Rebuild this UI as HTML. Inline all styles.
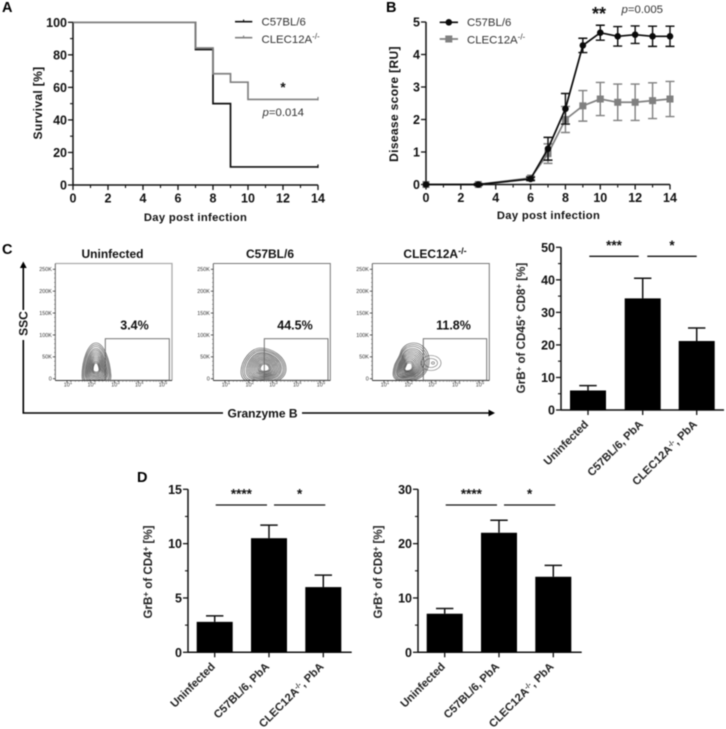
<!DOCTYPE html>
<html lang="en">
<head>
<meta charset="utf-8">
<title>Survival, disease score and granzyme B panels</title>
<style>
html,body{margin:0;padding:0;background:#fff;}
svg{display:block;filter:blur(0.4px);}
text{font-family:"Liberation Sans",sans-serif;fill:#111;}
.b{font-weight:bold;}
.tick{font-weight:bold;font-size:12.5px;}
.leg{font-size:11.4px;fill:#333;}
.lab{font-weight:bold;font-size:11.2px;letter-spacing:.35px;}
.laby{font-weight:bold;font-size:12px;letter-spacing:.35px;}
.cat{font-weight:bold;font-size:11.6px;fill:#222;}
.catx{font-weight:bold;font-size:11.2px;fill:#222;}
.star{font-weight:bold;font-size:13.5px;text-anchor:middle;}
.star2{font-weight:bold;font-size:18px;text-anchor:middle;}
.pct{font-weight:bold;font-size:12.5px;text-anchor:middle;}
.title{font-weight:bold;font-size:12px;text-anchor:middle;}
.letter{font-weight:bold;font-size:14.5px;fill:#000;}
.fl{font-size:5.4px;fill:#333;}
</style>
</head>
<body>
<svg id="fig" xmlns="http://www.w3.org/2000/svg" width="726" height="729" viewBox="0 0 726 729">
<rect width="726" height="729" fill="#fff"/>
<text class="letter" x="2" y="12">A</text>
<text class="letter" x="386" y="12">B</text>
<text class="letter" x="2" y="254">C</text>
<text class="letter" x="137" y="482">D</text>

<text class="laby" text-anchor="middle" transform="translate(42 103) rotate(-90)">Survival [%]</text>
<text class="lab" text-anchor="middle" x="195.5" y="221">Day post infection</text>
<text class="leg" x="261.5" y="25.5">C57BL/6</text>
<text class="leg" x="261.5" y="43">CLEC12A<tspan dy="-4" font-size="8">-/-</tspan></text>
<text class="star" x="283" y="92">*</text>
<text class="leg" x="262.5" y="116"><tspan font-style="italic">p</tspan>=0.014</text>

<text class="laby" text-anchor="middle" transform="translate(398 104) rotate(-90)">Disease score [RU]</text>
<text class="lab" text-anchor="middle" x="548.5" y="219">Day post infection</text>
<text class="leg" x="467" y="26">C57BL/6</text>
<text class="leg" x="467" y="43.5">CLEC12A<tspan dy="-4" font-size="8">-/-</tspan></text>
<text class="star2" x="599" y="20">**</text>
<text class="leg" x="621.5" y="13"><tspan font-style="italic">p</tspan>=0.005</text>

<text class="title" x="112.5" y="258">Uninfected</text>
<text class="title" x="270" y="258">C57BL/6</text>
<text class="title" x="435" y="258">CLEC12A<tspan dy="-4" font-size="9">-/-</tspan></text>
<text class="pct" x="134.5" y="329.5">3.4%</text>
<text class="pct" x="295" y="329.5">44.5%</text>
<text class="pct" x="453.5" y="329.5">11.8%</text>
<text class="b" font-size="12" text-anchor="middle" transform="translate(27.5 323.5) rotate(-90)">SSC</text>
<text class="b" font-size="12" x="227.5" y="417.5">Granzyme B</text>
<path d="M23.3 340V413M23.3 310V268" stroke="#000" stroke-width="1.6" fill="none"/>
<path d="M23.3 261.5l-3.4 6.5h6.8z" fill="#000"/>
<path d="M22.5 413H223M302 413H489" stroke="#000" stroke-width="1.6" fill="none"/>
<path d="M495 413l-6.5-3.4v6.8z" fill="#000"/>

<text class="cat" text-anchor="middle" transform="translate(525 328) rotate(-90)">GrB<tspan dy="-3.5" font-size="8">+</tspan><tspan dy="3.5"> of CD45</tspan><tspan dy="-3.5" font-size="8">+</tspan><tspan dy="3.5"> CD8</tspan><tspan dy="-3.5" font-size="8">+</tspan><tspan dy="3.5"> [%]</tspan></text>
<text class="cat" text-anchor="middle" transform="translate(152 572) rotate(-90)">GrB<tspan dy="-3.5" font-size="8">+</tspan><tspan dy="3.5"> of CD4</tspan><tspan dy="-3.5" font-size="8">+</tspan><tspan dy="3.5"> [%]</tspan></text>
<text class="cat" text-anchor="middle" transform="translate(382 572) rotate(-90)">GrB<tspan dy="-3.5" font-size="8">+</tspan><tspan dy="3.5"> of CD8</tspan><tspan dy="-3.5" font-size="8">+</tspan><tspan dy="3.5"> [%]</tspan></text>
</svg>

<script>
// Panel A: survival steps
const survivalDaysC57 = [0, 7, 8, 9, 14];
const survivalC57 = [100, 83.3, 50, 11.1, 11.1];
const survivalDaysClec = [0, 7, 8, 9, 10, 14];
const survivalClec = [100, 84.2, 68.4, 63.2, 52.6, 52.6];
const survivalYTicks = [0, 20, 40, 60, 80, 100];
const dayTicks = [0, 2, 4, 6, 8, 10, 12, 14];

// Panel B: disease score
const scoreDays = [0, 3, 6, 7, 8, 9, 10, 11, 12, 13, 14];
const scoreC57 = [0, 0, 0.17, 1.1, 2.33, 4.28, 4.67, 4.56, 4.61, 4.56, 4.56];
const errC57 = [0, 0.03, 0.05, 0.35, 0.47, 0.22, 0.23, 0.3, 0.27, 0.31, 0.31];
const scoreClec = [0, 0, 0.2, 0.95, 2.0, 2.42, 2.63, 2.53, 2.53, 2.58, 2.63];
const errClec = [0, 0, 0.05, 0.3, 0.4, 0.47, 0.51, 0.56, 0.56, 0.55, 0.54];
const scoreYTicks = [0, 1, 2, 3, 4, 5];

// Bar panels
const barCats = ["Uninfected", "C57BL/6, PbA", "CLEC12A"];
const cValues = [6, 34.3, 21.2];
const cErrors = [1.5, 6.2, 4];
const cTicks = [0, 10, 20, 30, 40, 50];
const d1Values = [2.8, 10.5, 6];
const d1Errors = [0.55, 1.2, 1.1];
const d1Ticks = [0, 5, 10, 15];
const d2Values = [7.1, 22, 13.9];
const d2Errors = [0.95, 2.3, 2.1];
const d2Ticks = [0, 10, 20, 30];

// Flow plots
const sscTicks = [0, 50, 100, 150, 200, 250];
const logTicks = [1, 2, 3, 4, 5];
const contourLevels = [1, 0.93, 0.86, 0.78, 0.72, 0.66, 0.6, 0.54, 0.48, 0.42, 0.36, 0.3, 0.25, 0.2];
const outlineUninfected = 'M-14 8C-14 -8,-8 -25,0 -25C8 -25,14 -8,15 8C15 16,8 20,0 20C-8 20,-14 16,-14 8Z';
const outlineC57 = 'M-24 4C-24 -8,-14 -20,-4 -20C6 -20,21 -12,21 1C21 12,8 16,-4 16C-14 16,-24 14,-24 4Z';
const outlineClec = 'M-15 6C-15 -4,-10 -8,-8 -14C-6 -22,0 -25,6 -25C14 -25,20 -18,21 -10C22 -2,18 10,6 12C-4 14,-15 14,-15 6Z';
const lobeClec = [[431, 363, 10, 7.5], [431, 363, 6.5, 4.5], [433, 363, 1.5, 1.2]];

const svg = document.getElementById('fig');
const NS = 'http://www.w3.org/2000/svg';
function mk(tag, attrs, nm) {
  const el = document.createElementNS(NS, tag);
  for (const k in attrs) el.setAttribute(k, attrs[k]);
  
  
  svg.appendChild(el);
  return el;
}
function scale(d0, d1, r0, r1) { return v => r0 + (v - d0) / (d1 - d0) * (r1 - r0); }
function line(x1, y1, x2, y2, color, w, nm) {
  return mk('line', {x1, y1, x2, y2, stroke: color, 'stroke-width': w}, nm);
}
function label(x, y, s, anchor, cls, nm) {
  const t = mk('text', {x, y, 'text-anchor': anchor, class: cls}, nm);
  t.textContent = s;
  return t;
}
function xyAxes(p, xs, ys, xTicks, yTicks, xMinor, yMinor) {
  line(xs(p.xMin), ys(p.yMin), xs(p.xMax), ys(p.yMin), '#111', 1.5, p.id + '-x-axis');
  line(xs(p.xMin), ys(p.yMin), xs(p.xMin), ys(p.yMax), '#111', 1.5, p.id + '-y-axis');
  xTicks.forEach(t => {
    line(xs(t), ys(p.yMin), xs(t), ys(p.yMin) + 5, '#111', 1.3, p.id + '-x-tick');
    label(xs(t), p.xLabelY, t, 'middle', 'tick', p.id + '-x-tick-label');
  });
  xMinor.forEach(t => line(xs(t), ys(p.yMin), xs(t), ys(p.yMin) + 3, '#111', 1.1, p.id + '-x-minor-tick'));
  yTicks.forEach(t => {
    line(xs(p.xMin) - 5, ys(t), xs(p.xMin), ys(t), '#111', 1.3, p.id + '-y-tick');
    label(xs(p.xMin) - 6, ys(t) + 4.5, t, 'end', 'tick', p.id + '-y-tick-label');
  });
  yMinor.forEach(t => line(xs(p.xMin) - 3, ys(t), xs(p.xMin), ys(t), '#111', 1.1, p.id + '-y-minor-tick'));
}

/* Panel A */
const ax = scale(0, 14, 73, 318);
const ay = scale(0, 100, 185, 22.3);
function stepPath(days, vals) {
  let d = 'M' + ax(days[0]) + ' ' + ay(vals[0]);
  for (let i = 1; i < days.length; i++) {
    d += 'H' + ax(days[i]) + 'V' + ay(vals[i]);
  }
  return d;
}
xyAxes({id: 'a', xMin: 0, xMax: 14, yMin: 0, yMax: 100, xLabelY: 202.5}, ax, ay, dayTicks, survivalYTicks,
  [1, 3, 5, 7, 9, 11, 13], [10, 30, 50, 70, 90]);
mk('path', {d: stepPath(survivalDaysC57, survivalC57), fill: 'none', stroke: '#111', 'stroke-width': 1.7}, 'survival-line-c57');
mk('path', {d: stepPath(survivalDaysClec, survivalClec), fill: 'none', stroke: '#808080', 'stroke-width': 1.7}, 'survival-line-clec');
line(ax(14), ay(survivalC57[survivalC57.length - 1]) - 2.5, ax(14), ay(survivalC57[survivalC57.length - 1]) + 1, '#111', 1.2, 'survival-censor-c57');
line(ax(14), ay(survivalClec[survivalClec.length - 1]) - 2.5, ax(14), ay(survivalClec[survivalClec.length - 1]) + 1, '#808080', 1.2, 'survival-censor-clec');
line(235, 21.7, 252.3, 21.7, '#111', 1.7, 'a-legend-line-c57');
line(243.6, 19.5, 243.6, 21.7, '#111', 1.1, 'a-legend-tick-c57');
line(235, 37.7, 252.3, 37.7, '#808080', 1.7, 'a-legend-line-clec');
line(243.6, 35.5, 243.6, 37.7, '#808080', 1.1, 'a-legend-tick-clec');

/* Panel B */
const bx = scale(0, 14, 426, 670);
const by = scale(0, 5, 184.5, 22);
xyAxes({id: 'b', xMin: 0, xMax: 14, yMin: 0, yMax: 5, xLabelY: 202}, bx, by, dayTicks, scoreYTicks,
  [1, 3, 5, 7, 9, 11, 13], []);
function series(vals, errs, color, id, square) {
  const pts = scoreDays.map((d, i) => bx(d) + ',' + by(vals[i])).join(' ');
  mk('polyline', {points: pts, fill: 'none', stroke: color, 'stroke-width': 1.7}, id + '-line');
  scoreDays.forEach((d, i) => {
    if (errs[i] > 0.02) {
      const x = bx(d), t = by(vals[i] + errs[i]), b = by(vals[i] - errs[i]);
      mk('path', {d: 'M' + (x - 4.5) + ' ' + t + 'H' + (x + 4.5) + 'M' + x + ' ' + t + 'V' + b + 'M' + (x - 4.5) + ' ' + b + 'H' + (x + 4.5),
        fill: 'none', stroke: color, 'stroke-width': 1.4}, id + '-error-bar');
    }
    if (square) {
      mk('rect', {x: bx(d) - 3.5, y: by(vals[i]) - 3.5, width: 7, height: 7, fill: color}, id + '-point');
    } else {
      mk('circle', {cx: bx(d), cy: by(vals[i]), r: 3.3, fill: color}, id + '-point');
    }
  });
}
series(scoreClec, errClec, '#808080', 'clec-score', true);
series(scoreC57, errC57, '#0a0a0a', 'c57-score', false);
line(439.7, 22.3, 458, 22.3, '#0a0a0a', 1.7, 'b-legend-line-c57');
mk('circle', {cx: 448.8, cy: 22.3, r: 3.3, fill: '#0a0a0a'}, 'b-legend-marker-c57');
line(439.7, 39, 458, 39, '#808080', 1.7, 'b-legend-line-clec');
mk('rect', {x: 445.3, y: 35.5, width: 7, height: 7, fill: '#808080'}, 'b-legend-marker-clec');

/* Flow plots */
function flowPlot(id, left, right, gateL, gateR, frame, frameW, outline, cx, cy, lobe) {
  const sy = scale(0, 250, 378.7, 269.3);
  const lx = scale(1, 5, left + 14.7, left + 109.7);
  const clipId = 'clip-' + id;
  const cp = mk('clipPath', {id: clipId}, id + '-contour-clip');
  const cr = document.createElementNS(NS, 'rect');
  cr.setAttribute('x', left);
  cr.setAttribute('y', 263);
  cr.setAttribute('width', right - left);
  cr.setAttribute('height', 117.5);
  cp.appendChild(cr);
  const g = mk('g', {'clip-path': 'url(#' + clipId + ')'}, id + '-contours');
  lobe.forEach(c => {
    const e = mk('ellipse', {cx: c[0], cy: c[1], rx: c[2], ry: c[3], fill: 'none', stroke: '#666', 'stroke-width': 0.6}, id + '-contour-lobe');
    g.appendChild(e);
  });
  contourLevels.forEach(s => {
    const p = mk('path', {d: outline, fill: 'none', stroke: '#444', 'stroke-width': 0.6, 'vector-effect': 'non-scaling-stroke',
      transform: 'translate(' + cx + ' ' + cy + ') scale(' + s + ')'}, id + '-contour');
    g.appendChild(p);
  });
  mk('path', {d: 'M' + left + ' 263.5H' + right + 'V380.5', fill: 'none', stroke: frame, 'stroke-width': frameW}, id + '-frame');
  line(left, 263.5, left, 380.5, '#555', 0.9, id + '-y-axis');
  line(left, 380.5, right, 380.5, '#333', 0.9, id + '-x-axis');
  mk('rect', {x: gateL, y: 338.7, width: gateR - gateL, height: 41.5, fill: 'none', stroke: '#666', 'stroke-width': 0.9}, id + '-gate');
  sscTicks.forEach(t => {
    line(left - 2.5, sy(t), left, sy(t), '#333', 0.8, id + '-y-tick');
    label(left - 3.5, sy(t) + 1.9, t === 0 ? '0' : t + 'K', 'end', 'fl', id + '-y-tick-label');
    if (t < 250) {
      [10, 20, 30, 40].forEach(m => line(left - 1.2, sy(t + m), left, sy(t + m), '#555', 0.5, id + '-y-minor-tick'));
    }
  });
  logTicks.forEach(t => {
    line(lx(t) - 3, 380.5, lx(t) - 3, 383, '#333', 0.8, id + '-x-tick');
    const l = label(lx(t) - 2, 386.5, '10', 'middle', 'fl', id + '-x-tick-label');
    const s = document.createElementNS(NS, 'tspan');
    s.setAttribute('dy', '-2.4');
    s.setAttribute('font-size', '4.4');
    s.textContent = t;
    l.appendChild(s);
    [0.35, 0.5, 0.65, 0.75, 0.85, 0.93].forEach(m => {
      if (t < 5) line(lx(t + m) - 3, 380.5, lx(t + m) - 3, 381.8, '#555', 0.5, id + '-x-minor-tick');
    });
  });
}
flowPlot('flow-uninfected', 55.3, 172, 105.3, 169.3, '#aaa', 1.3, outlineUninfected, 96, 368, []);
flowPlot('flow-c57', 213.3, 330.3, 264.3, 328, '#777', 1, outlineC57, 265, 368, []);
flowPlot('flow-clec', 372.3, 489.3, 423.3, 486.7, '#777', 1, outlineClec, 408, 368, lobeClec);

/* Bar panels */
function barPanel(id, p, vals, errs, ticks, minorStep) {
  const y = scale(0, ticks[ticks.length - 1], p.y0, p.yTop);
  line(p.axisX, p.y0, p.axisEnd, p.y0, '#111', 1.5, id + '-x-axis');
  line(p.axisX, p.y0, p.axisX, p.yTop, '#111', 1.5, id + '-y-axis');
  ticks.forEach((t, i) => {
    line(p.axisX - 5, y(t), p.axisX, y(t), '#111', 1.3, id + '-y-tick');
    label(p.axisX - 6, y(t) + 4.5, t, 'end', 'tick', id + '-y-tick-label');
    if (i < ticks.length - 1) {
      line(p.axisX - 3, y(t + minorStep), p.axisX, y(t + minorStep), '#111', 1.1, id + '-y-minor-tick');
    }
  });
  vals.forEach((v, i) => {
    const cx = p.centers[i];
    const top = y(v + errs[i]);
    mk('path', {d: 'M' + (cx - 8.7) + ' ' + top + 'H' + (cx + 8.7) + 'M' + cx + ' ' + top + 'V' + y(v), fill: 'none', stroke: '#111', 'stroke-width': 1.5}, id + '-error-bar');
    mk('rect', {x: cx - 18, y: y(v), width: 36, height: p.y0 - y(v), fill: '#000'}, id + '-bar-' + (i + 1));
    line(cx, p.y0, cx, p.y0 + 5, '#111', 1.3, id + '-x-tick');
    const ex = cx + 1, ey = p.y0 + 15;
    const t = mk('text', {x: 0, y: 0, 'text-anchor': 'end', class: 'catx', transform: 'translate(' + ex + ' ' + ey + ') rotate(-45)'}, id + '-category-label');
    if (i === 2) {
      t.textContent = barCats[2];
      const s = document.createElementNS(NS, 'tspan');
      s.setAttribute('dy', '-3.5');
      s.setAttribute('font-size', '7');
      s.textContent = '-/-';
      t.appendChild(s);
      const r = document.createElementNS(NS, 'tspan');
      r.setAttribute('dy', '3.5');
      r.textContent = ', PbA';
      t.appendChild(r);
    } else {
      t.textContent = barCats[i];
    }
  });
  p.sig.forEach(s => {
    line(s.x1, p.sigY, s.x2, p.sigY, '#111', 1.3, id + '-significance-line');
    label((s.x1 + s.x2) / 2, p.sigY - 6.5, s.t, 'middle', 'star', id + '-significance-label');
  });
}
barPanel('c', {axisX: 561, axisEnd: 724, y0: 410, yTop: 247.3, centers: [588, 642.7, 696.7], sigY: 256.3,
  sig: [{x1: 589.3, x2: 638.7, t: '***'}, {x1: 647.3, x2: 696.7, t: '*'}]}, cValues, cErrors, cTicks, 5);
barPanel('d1', {axisX: 188, axisEnd: 351.7, y0: 652.3, yTop: 489.3, centers: [214.7, 269, 323.3], sigY: 505,
  sig: [{x1: 215.7, x2: 267, t: '****'}, {x1: 274, x2: 325.3, t: '*'}]}, d1Values, d1Errors, d1Ticks, 2.5);
barPanel('d2', {axisX: 418, axisEnd: 581.7, y0: 652.3, yTop: 489.3, centers: [444.7, 499, 553.3], sigY: 505,
  sig: [{x1: 445.7, x2: 497, t: '****'}, {x1: 504, x2: 555.3, t: '*'}]}, d2Values, d2Errors, d2Ticks, 5);
</script>
</body>
</html>
